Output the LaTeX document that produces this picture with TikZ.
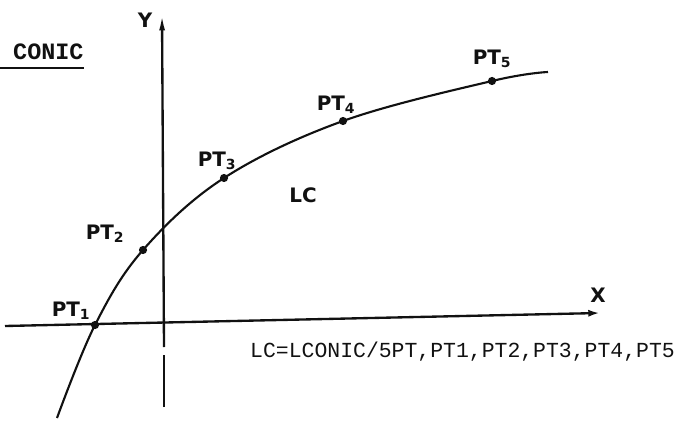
\documentclass[tikz,border=0pt]{standalone}
\usepackage{fontspec}
\setmainfont{Liberation Serif}
\newfontfamily\lblfont{DejaVu Sans}
\newfontfamily\codefont{Liberation Mono}
\usepackage{tikz}
\usetikzlibrary{positioning, arrows.meta, calc}
\definecolor{inkblack}{HTML}{111111}

\begin{document}
\begin{tikzpicture}[x=0.03cm, y=-0.03cm,
    ptdot/.style={circle, fill=inkblack, inner sep=0pt, minimum size=7pt},
    ptlabel/.style={font=\lblfont\bfseries\fontsize{17}{17}\selectfont, text=inkblack, inner sep=0pt},
    axisline/.style={draw=inkblack, line width=2pt}]
  \useasboundingbox (0,0) rectangle (678,425);

  % axes
  \coordinate (xleft) at (5,326);
  \coordinate (xtip) at (600,313);
  \coordinate (ybot) at (164,407);
  \coordinate (ygapb) at (164,355);
  \coordinate (ygapt) at (164,347);
  \coordinate (ytip) at (162,14);
  \draw[axisline, -{Latex[length=10pt, width=6pt]}] (xleft) -- (xtip);
  \draw[axisline, -{Latex[length=14pt, width=5pt]}] (ygapt) -- (ytip);
  \draw[axisline] (ybot) -- (ygapb);
  \node[ptlabel] (xlbl) at (598,295) {X};
  \node[ptlabel] (ylbl) at (145,20) {Y};

  % the five points and the conic through them
  \node[ptdot] (pt1) at (95,325) {};
  \node[ptdot] (pt2) at (143,250) {};
  \node[ptdot] (pt3) at (224,178) {};
  \node[ptdot] (pt4) at (343,121) {};
  \node[ptdot] (pt5) at (492,81) {};
  \coordinate (cstart) at (57,418);
  \coordinate (cend) at (548,72);
  \draw[inkblack, line width=1.8pt] plot[smooth, tension=0.6] coordinates
    {(cstart) (pt1) (pt2) (pt3) (pt4) (pt5) (cend)};

  \node[ptlabel] (lbl1) at (71,311) {PT\textsubscript{1}};
  \node[ptlabel] (lbl2) at (105,234) {PT\textsubscript{2}};
  \node[ptlabel] (lbl3) at (217,161) {PT\textsubscript{3}};
  \node[ptlabel] (lbl4) at (336,105) {PT\textsubscript{4}};
  \node[ptlabel] (lbl5) at (492,59) {PT\textsubscript{5}};
  \node[ptlabel] (lc) at (303,195) {LC};

  % title and statement
  \node[font=\codefont\bfseries\fontsize{20}{20}\selectfont, text=inkblack, anchor=west, inner sep=0pt] (title) at (13,52) {CONIC};
  \coordinate (ulleft) at (0,68);
  \draw[inkblack, line width=1.8pt] (ulleft) -- (ulleft -| title.east);
  \node[font=\codefont\fontsize{18.3}{18.3}\selectfont, text=inkblack, anchor=west, inner sep=0pt] (stmt) at (250,352)
    {LC=LCONIC/5PT,PT1,PT2,PT3,PT4,PT5};
\end{tikzpicture}
\end{document}
